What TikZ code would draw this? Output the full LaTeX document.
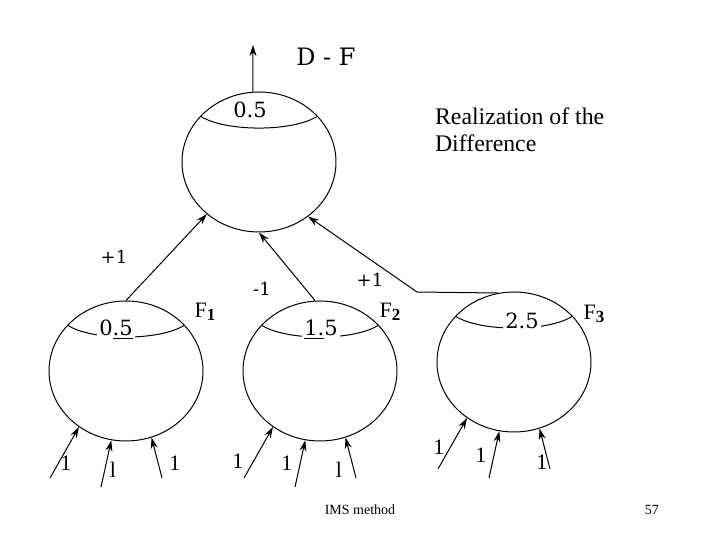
\documentclass[tikz,border=0pt]{standalone}
\usepackage{fontspec}
\setmainfont{Liberation Serif}
\newfontfamily\numfont{DejaVu Serif}
\usetikzlibrary{arrows.meta,shapes.geometric,calc}

\newcommand{\fsub}[1]{F\raisebox{-0.35ex}{\fontsize{8.5}{9}\selectfont\textbf{#1}}}

\tikzset{
  ball/.style={ellipse,draw,line width=0.5pt,minimum width=77pt,minimum height=70pt,inner sep=0pt},
  capline/.style={line width=0.5pt},
  conn/.style={line width=0.5pt,-{Stealth[length=5.5pt,width=3.5pt]}},
  val/.style={font=\numfont\fontsize{10.5}{12}\selectfont,fill=white,inner sep=1pt},
  wt/.style={font=\numfont\fontsize{9}{11}\selectfont},
  inp/.style={font=\fontsize{11}{13}\selectfont},
  fname/.style={font=\fontsize{11}{12}\selectfont}
}

\begin{document}
\begin{tikzpicture}[x=0.5pt,y=-0.5pt]

    \useasboundingbox (0,0) rectangle (720,540);

    % ── BALLS ──────────────────────────────────────────────
    \node[ball] (top) at (259,162){};
    \node[ball] (f1)  at (126,371){};
    \node[ball] (f2)  at (320,371){};
    \node[ball] (f3)  at (514,362){};
    \foreach \n in {top,f1,f2,f3}{
      \draw[capline] (\n.142) .. controls +(25,16) and +(-25,16) .. (\n.38);
    }

    % values in the caps
    \node[val] (vtop) at (250,110){0.5};
    \node[val] (v1)   at (116,330){0\underline{.5}};
    \node[val] (v2)   at (321,330){\underline{1.}5};
    \node[val] (v3)   at (522,321){2.5};

    \node[fname] (n1) at (205,312){\fsub{1}};
    \node[fname] (n2) at (390,312){\fsub{2}};
    \node[fname] (n3) at (594,314){\fsub{3}};

    % ── OUTPUT ─────────────────────────────────────────────
    \coordinate (dfout) at (253,45);
    \draw[conn] (top.95) -- (dfout);
    \node[font=\numfont\fontsize{12}{14}\selectfont] (df) at (326,57){D - F};

    \node[align=left,font=\fontsize{11.9}{13.5}\selectfont,anchor=north west]
      (note) at (428,101){Realization of the\\Difference};

    % ── LINKS TO THE TOP BALL ──────────────────────────────
    \draw[conn] (f1.north) -- (top.225);
    \draw[conn] (f2.94) -- (top.south);
    \coordinate (bend) at (417,292);
    \draw[conn] (f3.103) -- (bend) -- (top.312);

    \node[wt] (w1) at (114,257){+1};
    \node[wt] (w2) at (262,289){-1};
    \node[wt] (w3) at (370,280){+1};

    % ── INPUTS ─────────────────────────────────────────────
    \foreach \n in {f1,f2,f3}{
      \coordinate (\n-a) at ($(\n)+(-76,107)$);
      \coordinate (\n-b) at ($(\n)+(-25,116)$);
      \coordinate (\n-c) at ($(\n)+(36,107)$);
      \draw[conn] (\n-a) -- (\n.230);
      \draw[conn] (\n-b) -- (\n.258);
      \draw[conn] (\n-c) -- (\n.291);
    }
    \foreach \x/\y/\t [count=\i] in {66/463/1, 113/470/l, 175/463/1,
                                     238/461/1, 287/463/1, 339/470/l,
                                     439/447/1, 481/455/1, 542/462/1}{
      \node[inp] (in\i) at (\x,\y){\t};
    }

    % footer
    \node[font=\fontsize{7}{8}\selectfont] (foot) at (360,510){IMS method};
    \node[font=\fontsize{7}{8}\selectfont] (page) at (652,510){57};

\end{tikzpicture}
\end{document}
